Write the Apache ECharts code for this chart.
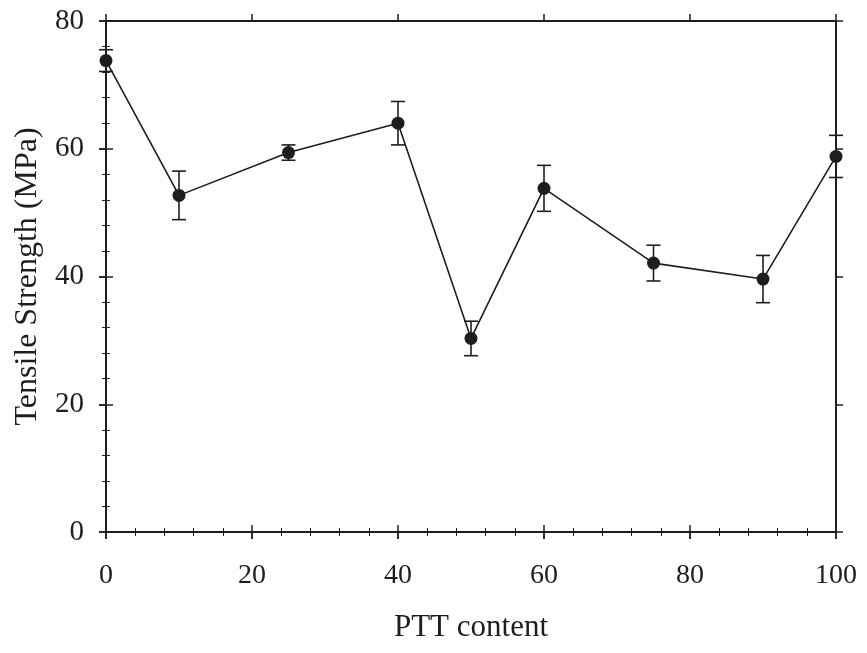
<!DOCTYPE html>
<html>
<head>
<meta charset="utf-8">
<script src="https://cdn.jsdelivr.net/npm/echarts@6/dist/echarts.min.js"></script>
<style>
  html, body { margin: 0; padding: 0; background: #fff; }
  #chart { width: 867px; height: 653px; }
</style>
</head>
<body>
<div id="chart"></div>
<script>
// PTT content (%) and measured tensile strength with standard deviation
var pttContent = [0, 10, 25, 40, 50, 60, 75, 90, 100];
var tensileStrength = [73.8, 52.7, 59.4, 64.0, 30.3, 53.8, 42.1, 39.6, 58.8];
var strengthError = [1.7, 3.8, 1.2, 3.4, 2.7, 3.6, 2.8, 3.7, 3.3];
var xTicks = [0, 20, 40, 60, 80, 100];
var yTicks = [0, 20, 40, 60, 80];

var INK = '#1e1e1e';
var FONT = '"Liberation Serif", "Times New Roman", serif';

var points = pttContent.map(function (x, i) { return [x, tensileStrength[i]]; });
var bars = pttContent.map(function (x, i) {
  return [x, tensileStrength[i] - strengthError[i], tensileStrength[i] + strengthError[i]];
});

function axisX(pos, opts) {
  return Object.assign({
    type: 'value', position: pos, min: xTicks[0], max: xTicks[xTicks.length - 1], interval: 20,
    splitLine: { show: false },
    axisLine: { show: false },
    axisLabel: { show: false },
    axisTick: { show: false }
  }, opts);
}
function axisY(pos, opts) {
  return Object.assign({
    type: 'value', position: pos, min: yTicks[0], max: yTicks[yTicks.length - 1], interval: 20,
    splitLine: { show: false },
    axisLine: { show: false },
    axisLabel: { show: false },
    axisTick: { show: false }
  }, opts);
}

var outTick = { show: true, inside: false, length: 7, lineStyle: { color: INK, width: 1.5 } };
var inTick = { show: true, inside: true, length: 7, lineStyle: { color: INK, width: 1.5 } };
var minor = { show: true, splitNumber: 5, length: 4, lineStyle: { color: INK, width: 1 } };
var frame = { show: true, onZero: false, lineStyle: { color: INK, width: 2 } };

var chart = echarts.init(document.getElementById('chart'));
chart.setOption({
  animation: false,
  backgroundColor: '#fff',
  grid: { left: 106, right: 31, top: 21, bottom: 121, outerBoundsMode: 'none', containLabel: false },
  xAxis: [
    axisX('bottom', {
      name: 'PTT content', nameLocation: 'middle', nameGap: 80,
      nameTextStyle: { fontFamily: FONT, fontSize: 31, color: INK },
      axisLine: frame, axisTick: outTick,
      axisLabel: { show: true, margin: 30, fontFamily: FONT, fontSize: 28, color: INK }
    }),
    axisX('bottom', { axisTick: inTick, minorTick: minor }),
    axisX('top', { axisLine: frame, axisTick: outTick }),
    axisX('top', { axisTick: inTick, minorTick: minor })
  ],
  yAxis: [
    axisY('left', {
      name: 'Tensile Strength (MPa)', nameLocation: 'middle', nameGap: 62,
      nameTextStyle: { fontFamily: FONT, fontSize: 32, color: INK },
      axisLine: frame, axisTick: outTick,
      axisLabel: { show: true, margin: 22, fontFamily: FONT, fontSize: 29, color: INK }
    }),
    axisY('left', { axisTick: inTick, minorTick: minor }),
    axisY('right', { axisLine: frame, axisTick: outTick }),
    axisY('right', { axisTick: inTick, minorTick: minor })
  ],
  series: [
    {
      type: 'custom',
      xAxisIndex: 0, yAxisIndex: 0,
      data: bars,
      z: 3,
      renderItem: function (params, api) {
        var x = api.value(0);
        var lo = api.coord([x, api.value(1)]);
        var hi = api.coord([x, api.value(2)]);
        var hw = 7;
        var style = { stroke: INK, lineWidth: 1.6 };
        return {
          type: 'group',
          children: [
            { type: 'line', shape: { x1: lo[0], y1: lo[1], x2: hi[0], y2: hi[1] }, style: style },
            { type: 'line', shape: { x1: lo[0] - hw, y1: lo[1], x2: lo[0] + hw, y2: lo[1] }, style: style },
            { type: 'line', shape: { x1: hi[0] - hw, y1: hi[1], x2: hi[0] + hw, y2: hi[1] }, style: style }
          ]
        };
      }
    },
    {
      type: 'line',
      xAxisIndex: 0, yAxisIndex: 0,
      data: points,
      z: 4,
      symbol: 'circle',
      symbolSize: 13,
      lineStyle: { color: INK, width: 1.6 },
      itemStyle: { color: INK }
    }
  ]
});
</script>
</body>
</html>
